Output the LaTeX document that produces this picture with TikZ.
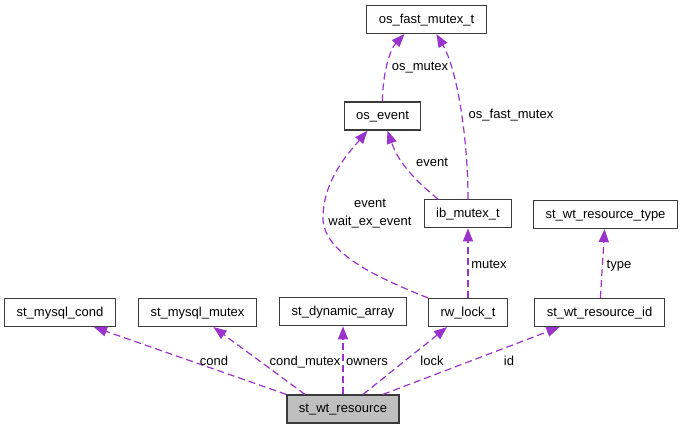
\documentclass[tikz,border=0pt]{standalone}
\usepackage{fontspec}
\setmainfont{Liberation Sans}
\usetikzlibrary{positioning}
\usetikzlibrary{arrows.meta,arrows}
\definecolor{usecol}{HTML}{9A32CD}
\definecolor{boxcol}{HTML}{3A3A3A}
\begin{document}
\begin{tikzpicture}[x=1pt,y=-1pt,
	box/.style={draw=boxcol,line width=1.2pt,minimum height=28pt,inner xsep=12pt,inner ysep=0pt,text height=9.5pt,text depth=2.5pt,font=\fontsize{13}{17}\selectfont},
	usage/.style={draw=usecol,line width=1.2pt,dash pattern=on 7pt off 4pt,-{Triangle[length=13pt,width=10pt]}},
	lbl/.style={inner sep=0pt,text height=9.5pt,text depth=2.5pt,font=\fontsize{13}{17}\selectfont}]
				\useasboundingbox (0,0) rectangle (681,429);
				\node[box,fill=black!25](wtres) at (343,409) {st\_wt\_resource};
				\node[box,above=68pt of wtres](dynarr) {st\_dynamic\_array};
				\node[box](mutex) at (197.5,312.5) {st\_mysql\_mutex};
				\node[box](cond) at (60,312.5) {st\_mysql\_cond};
				\node[box](rwlock) at (468,312.5) {rw\_lock\_t};
				\node[box](wtid) at (599.5,312.5) {st\_wt\_resource\_id};
				\node[box,above=69.5pt of rwlock](ibmutex) {ib\_mutex\_t};
				\node[box](wttype) at (605.5,214.5) {st\_wt\_resource\_type};
				\node[box](osevent) at (382.5,116) {os\_event};
				\node[box](fastmutex) at (426.5,19.5) {os\_fast\_mutex\_t};

				\draw[usage] (wtres.north west) to ([xshift=34pt]cond.south);
				\draw[usage] ([xshift=-38pt]wtres.north) to ([xshift=16pt]mutex.south);
				\draw[usage] (wtres) to (dynarr);
				\draw[usage] ([xshift=20pt]wtres.north) to ([xshift=-21pt]rwlock.south);
				\draw[usage] ([xshift=40pt]wtres.north) to ([xshift=-40pt]wtid.south);
				\draw[usage] (wtid) to (wttype);
				\draw[usage] (rwlock) to (ibmutex);
				\draw[usage] (rwlock.north west) .. controls +(-50,-20) and +(0,35) .. (323,218) .. controls +(0,-40) and +(-15,18) .. ([xshift=-15pt]osevent.south);
				\draw[usage] ([xshift=-30pt]ibmutex.north) .. controls +(-18,-15) and +(12,35) .. ([xshift=5pt]osevent.south);
				\draw[usage] (ibmutex.north) .. controls +(0,-60) and +(21,36) .. ([xshift=10pt]fastmutex.south);
				\draw[usage] (osevent.north) .. controls +(0,-27) and +(-15,16) .. ([xshift=-22pt]fastmutex.south);

				\node[lbl](lcond) at (214,361.5) {cond};
				\node[lbl](lcondmutex) at (305,361.5) {cond\_mutex};
				\node[lbl](lowners) at (367,361.5) {owners};
				\node[lbl](llock) at (432,361.5) {lock};
				\node[lbl](lid) at (509,361.5) {id};
				\node[lbl](ltype) at (619,265) {type};
				\node[lbl](lmutex) at (489,265) {mutex};
				\node[inner sep=0pt,align=center,font=\fontsize{13}{18}\selectfont](levent) at (370,214) {event\\wait\_ex\_event};
				\node[lbl](lev) at (432,163) {event};
				\node[lbl](lfast) at (511,115) {os\_fast\_mutex};
				\node[lbl](losmutex) at (420,67) {os\_mutex};
			\end{tikzpicture}
\end{document}
